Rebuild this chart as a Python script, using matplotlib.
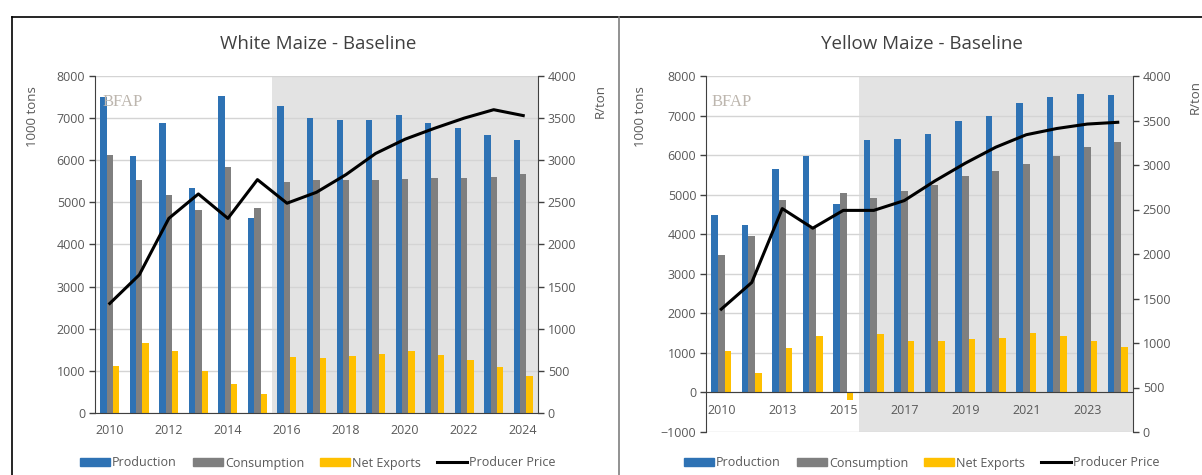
import numpy as np
import matplotlib.pyplot as plt
from matplotlib.lines import Line2D
from matplotlib.patches import Patch

# White maize, 2010-2024
white_years = list(range(2010, 2025))
white_production = [7510, 6110, 6880, 5350, 7530, 4620, 7280, 7010, 6960, 6960, 7080, 6890, 6760, 6600, 6470]
white_consumption = [6130, 5520, 5180, 4820, 5830, 4870, 5480, 5520, 5520, 5520, 5550, 5570, 5590, 5610, 5680]
white_net_exports = [1120, 1650, 1460, 1000, 690, 450, 1340, 1300, 1360, 1400, 1470, 1380, 1260, 1090, 870]
white_price = [1300, 1640, 2310, 2600, 2310, 2770, 2490, 2620, 2830, 3080, 3250, 3380, 3500, 3600, 3530]

# Yellow maize (categories as labelled on the source axis)
yellow_years = [2010, 2012, 2013, 2014, 2015, 2016, 2017, 2018, 2019, 2020, 2021, 2022, 2023, 2024]
yellow_production = [4490, 4240, 5650, 5970, 4770, 6370, 6400, 6530, 6850, 6990, 7310, 7480, 7550, 7530]
yellow_consumption = [3470, 3950, 4860, 4150, 5030, 4920, 5090, 5250, 5460, 5600, 5770, 5990, 6200, 6340]
yellow_net_exports = [1060, 480, 1130, 1420, -190, 1470, 1310, 1310, 1360, 1380, 1500, 1420, 1290, 1140]
yellow_price = [1380, 1680, 2510, 2290, 2490, 2490, 2600, 2820, 3020, 3200, 3340, 3410, 3460, 3480]

BLUE = '#2E72B4'
GREY = '#7F7F7F'
GOLD = '#FFC000'
SHADE = '#E3E3E3'
GRID = '#D4D4D4'
TXT = '#595959'

plt.rcParams['font.family'] = ['Open Sans', 'DejaVu Sans']

W, H = 1202, 475
fig = plt.figure(figsize=(W / 100, H / 100), dpi=100)


def px_axes(x0, y0, x1, y1):
    return fig.add_axes([x0 / W, 1 - y1 / H, (x1 - x0) / W, (y1 - y0) / H])


def draw_panel(rect, title, years, prod, cons, netx, price, ylim, yticks,
               shade_from, label_idx, title_x, ylab_x, rlab_x, rlab_y, logo_x):
    ax = px_axes(*rect)
    x = np.arange(len(years))
    bw = 0.215
    ax.bar(x - bw, prod, bw, color=BLUE, zorder=2)
    ax.bar(x, cons, bw, color=GREY, zorder=2)
    ax.bar(x + bw, netx, bw, color=GOLD, zorder=2)
    ax.axvspan(shade_from, len(years) - 0.5, color=SHADE, zorder=0.2, lw=0)
    ax.set_xlim(-0.5, len(years) - 0.5)
    ax.set_ylim(*ylim)
    ax.set_yticks(yticks)
    ax.yaxis.grid(True, color=GRID, lw=1)
    ax.set_axisbelow(True)
    ax.set_xticks(x[label_idx])
    ax.set_xticklabels([str(years[i]) for i in label_idx])
    ax.tick_params(axis='x', length=0, pad=8, labelsize=9, colors=TXT)
    ax.tick_params(axis='y', length=4, width=1, labelsize=9, colors=TXT, color='#404040', pad=3)
    for s in ['top', 'right']:
        ax.spines[s].set_visible(False)
    ax.spines['left'].set_color('#404040')
    ax.spines['bottom'].set_color('#404040')
    ax.spines['bottom'].set_position(('data', 0))

    ax2 = ax.twinx()
    ax2.plot(x, price, color='black', lw=2.2, zorder=3)
    ax2.set_ylim(0, 4000)
    ax2.set_yticks(np.arange(0, 4001, 500))
    ax2.tick_params(axis='y', length=4, width=1, labelsize=9, colors=TXT, color='#404040', pad=3)
    for s in ['top', 'left', 'bottom']:
        ax2.spines[s].set_visible(False)
    ax2.spines['right'].set_color('#404040')

    fig.text(title_x / W, 1 - 44 / H, title, ha='center', va='center', fontsize=13.5, color='#404040')
    fig.text(ylab_x / W, 1 - 117 / H, '1000 tons', rotation=90, ha='center', va='center',
             fontsize=9.5, color=TXT)
    fig.text(rlab_x / W, 1 - rlab_y / H, 'R/ton', rotation=90, ha='center', va='center',
             fontsize=9.5, color=TXT)
    fig.text(logo_x / W, 1 - 102 / H, 'BFAP', family=['Liberation Serif', 'DejaVu Serif'],
             fontsize=12, color='#BDB6AE', ha='left', va='center', zorder=1)

    handles = [Patch(color=BLUE), Patch(color=GREY), Patch(color=GOLD),
               Line2D([], [], color='black', lw=2.2)]
    labels = ['Production', 'Consumption', 'Net Exports', 'Producer Price']
    fig.legend(handles, labels, loc='center', bbox_to_anchor=(title_x / W, 1 - 463 / H),
               ncol=4, frameon=False, fontsize=9, handlelength=2.4, handleheight=0.6,
               handletextpad=0.15, columnspacing=1.3, labelcolor=TXT)
    return ax, ax2


draw_panel((95, 76, 538, 413), 'White Maize - Baseline', white_years, white_production,
           white_consumption, white_net_exports, white_price, (0, 8000),
           np.arange(0, 8001, 1000), 5.5, list(range(0, 15, 2)), 318, 33, 600, 101, 103)

draw_panel((706, 76, 1133, 432), 'Yellow Maize - Baseline', yellow_years, yellow_production,
           yellow_consumption, yellow_net_exports, yellow_price, (-1000, 8000),
           np.arange(-1000, 8001, 1000), 4.5, list(range(0, 14, 2)), 922, 640, 1195, 97, 712)

# panel frame lines
fig.add_artist(Line2D([12 / W, 1], [1 - 17 / H, 1 - 17 / H], color='black', lw=1.2))
fig.add_artist(Line2D([12 / W, 12 / W], [0, 1 - 17 / H], color='black', lw=1.2))
fig.add_artist(Line2D([619 / W, 619 / W], [0, 1 - 17 / H], color='#7F7F7F', lw=1.2))

fig.savefig('out.png', dpi=100, facecolor='white')
